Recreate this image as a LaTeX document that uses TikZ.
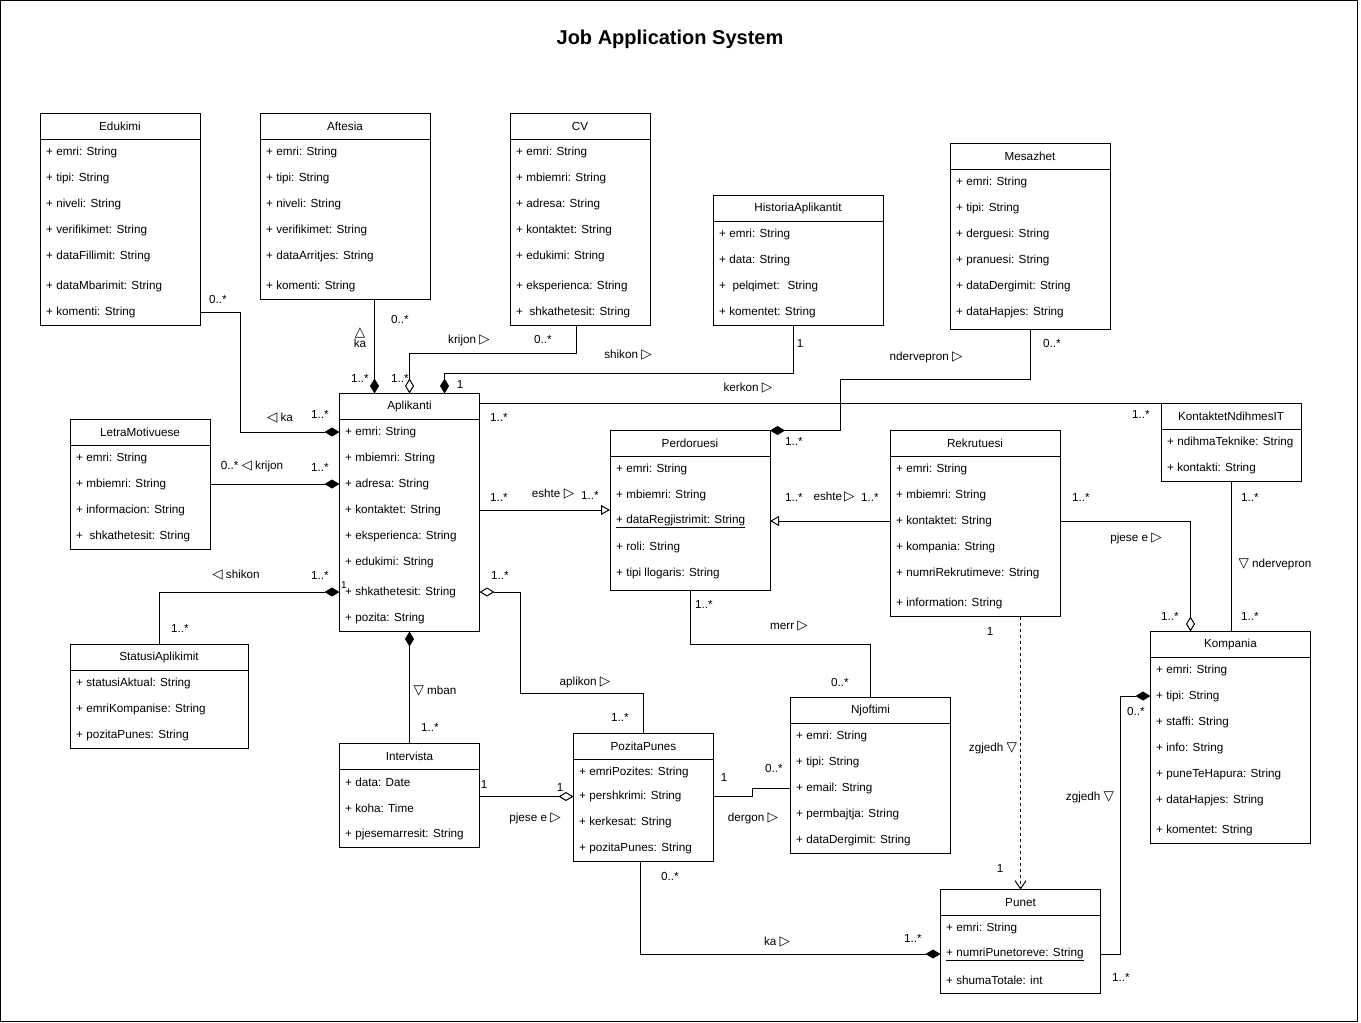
\documentclass[tikz,border=0pt]{standalone}
\usepackage{fontspec}
\setmainfont{Liberation Sans}
\newfontfamily\symfont{DejaVu Sans}
\usetikzlibrary{arrows.meta,calc}
\newcommand{\trR}{{\symfont\fontsize{13.5}{12}\selectfont ▷}}
\newcommand{\trL}{{\symfont\fontsize{13.5}{12}\selectfont ◁}}
\newcommand{\trU}{{\symfont\fontsize{13.5}{12}\selectfont △}}
\newcommand{\trD}{{\symfont\fontsize{13.5}{12}\selectfont ▽}}
\tikzset{
  box/.style={draw, line width=1pt, inner sep=0pt, outer sep=0pt, anchor=north west},
  attr/.style={anchor=west, inner sep=0pt, font=\fontsize{11.7}{14}\selectfont},
  ttl/.style={inner sep=0pt, font=\fontsize{11.7}{14}\selectfont},
  lbl/.style={inner sep=0pt, font=\fontsize{11.7}{14}\selectfont},
  conn/.style={line width=1pt},
  compo/.style={conn, -{Diamond[length=15pt,width=9pt]}},
  aggr/.style={conn, -{Diamond[open,length=15pt,width=9pt,fill=white]}},
  gen/.style={conn, -{Triangle[open,length=9pt,width=10pt,fill=white]}},
  dep/.style={conn, dash pattern=on 3pt off 3pt, -{Straight Barb[length=8pt,width=11pt]}},
}
\newcommand{\umlbox}[6]{%
  \node[box, minimum width=#4, minimum height=#5] (#1) at (#2,#3) {};
  \draw[conn] ($(#1.north west)+(0,26)$) -- ($(#1.north east)+(0,26)$);
  \node[ttl] (#1-t) at ($(#1.north)+(0,13)$) {#6};
}
\newcommand{\ua}[4]{\node[attr] (#1) at (#2,#3) {#4};}
\begin{document}
\begin{tikzpicture}[x=1pt,y=-1pt]
\useasboundingbox (0,0) rectangle (1361,1023);
\draw[line width=1pt] (0.5,0.5) rectangle (1357.5,1021);
\node[inner sep=0pt, font=\bfseries\fontsize{20}{24}\selectfont] (title) at (670,39) {Job Application System};

% Edukimi
\umlbox{edu}{40}{113}{160}{212}{Edukimi}
\ua{edu1}{46}{152}{+ emri: String}
\ua{edu2}{46}{178}{+ tipi: String}
\ua{edu3}{46}{204}{+ niveli: String}
\ua{edu4}{46}{230}{+ verifikimet: String}
\ua{edu5}{46}{256}{+ dataFillimit: String}
\ua{edu6}{46}{286}{+ dataMbarimit: String}
\ua{edu7}{46}{312}{+ komenti: String}

% Aftesia
\umlbox{aft}{260}{113}{170}{186}{Aftesia}
\ua{aft1}{266}{152}{+ emri: String}
\ua{aft2}{266}{178}{+ tipi: String}
\ua{aft3}{266}{204}{+ niveli: String}
\ua{aft4}{266}{230}{+ verifikimet: String}
\ua{aft5}{266}{256}{+ dataArritjes: String}
\ua{aft6}{266}{286}{+ komenti: String}

% CV
\umlbox{cv}{510}{113}{140}{212}{CV}
\ua{cv1}{516}{152}{+ emri: String}
\ua{cv2}{516}{178}{+ mbiemri: String}
\ua{cv3}{516}{204}{+ adresa: String}
\ua{cv4}{516}{230}{+ kontaktet: String}
\ua{cv5}{516}{256}{+ edukimi: String}
\ua{cv6}{516}{286}{+ eksperienca: String}
\ua{cv7}{516}{312}{+ \ shkathetesit: String}

% HistoriaAplikantit
\umlbox{hist}{713}{195.5}{170}{130}{HistoriaAplikantit}
\ua{hist1}{719}{234}{+ emri: String}
\ua{hist2}{719}{260}{+ data: String}
\ua{hist3}{719}{286}{+ \ pelqimet: \ String}
\ua{hist4}{719}{312}{+ komentet: String}

% Mesazhet
\umlbox{mes}{950}{143.5}{160}{186}{Mesazhet}
\ua{mes1}{956}{182}{+ emri: String}
\ua{mes2}{956}{208}{+ tipi: String}
\ua{mes3}{956}{234}{+ derguesi: String}
\ua{mes4}{956}{260}{+ pranuesi: String}
\ua{mes5}{956}{286}{+ dataDergimit: String}
\ua{mes6}{956}{312}{+ dataHapjes: String}

% KontaktetNdihmesIT
\umlbox{kont}{1161}{403.5}{140}{77.5}{KontaktetNdihmesIT}
\ua{kont1}{1167}{442}{+ ndihmaTeknike: String}
\ua{kont2}{1167}{468}{+ kontakti: String}

% Aplikanti
\umlbox{apl}{339.5}{393.5}{140}{238}{Aplikanti}
\ua{apl1}{345}{432}{+ emri: String}
\ua{apl2}{345}{458}{+ mbiemri: String}
\ua{apl3}{345}{484}{+ adresa: String}
\ua{apl4}{345}{510}{+ kontaktet: String}
\ua{apl5}{345}{536}{+ eksperienca: String}
\ua{apl6}{345}{562}{+ edukimi: String}
\ua{apl7}{345}{592}{+ shkathetesit: String}
\ua{apl8}{345}{618}{+ pozita: String}

% Perdoruesi
\umlbox{per}{610}{430.5}{160}{160}{Perdoruesi}
\ua{per1}{616}{469}{+ emri: String}
\ua{per2}{616}{495}{+ mbiemri: String}
\ua{per3}{616}{521}{\underline{+ dataRegjistrimit: String}}
\ua{per4}{616}{547}{+ roli: String}
\ua{per5}{616}{573}{+ tipi llogaris: String}

% Rekrutuesi
\umlbox{rek}{890}{430.5}{170}{186}{Rekrutuesi}
\ua{rek1}{896}{469}{+ emri: String}
\ua{rek2}{896}{495}{+ mbiemri: String}
\ua{rek3}{896}{521}{+ kontaktet: String}
\ua{rek4}{896}{547}{+ kompania: String}
\ua{rek5}{896}{573}{+ numriRekrutimeve: String}
\ua{rek6}{896}{603}{+ information: String}

% LetraMotivuese
\umlbox{let}{70}{419.5}{140}{130}{LetraMotivuese}
\ua{let1}{76}{458}{+ emri: String}
\ua{let2}{76}{484}{+ mbiemri: String}
\ua{let3}{76}{510}{+ informacion: String}
\ua{let4}{76}{536}{+ \ shkathetesit: String}

% StatusiAplikimit
\umlbox{stat}{70}{644.5}{178}{104}{StatusiAplikimit}
\ua{stat1}{76}{683}{+ statusiAktual: String}
\ua{stat2}{76}{709}{+ emriKompanise: String}
\ua{stat3}{76}{735}{+ pozitaPunes: String}

% Intervista
\umlbox{intv}{339.5}{743.5}{140}{104}{Intervista}
\ua{intv1}{345}{782}{+ data: Date}
\ua{intv2}{345}{808}{+ koha: Time}
\ua{intv3}{345}{834}{+ pjesemarresit: String}

% PozitaPunes
\umlbox{pos}{573.5}{733.5}{140}{128}{PozitaPunes}
\ua{pos1}{579}{772}{+ emriPozites: String}
\ua{pos2}{579}{796.5}{+ pershkrimi: String}
\ua{pos3}{579}{822}{+ kerkesat: String}
\ua{pos4}{579}{848}{+ pozitaPunes: String}

% Njoftimi
\umlbox{njo}{790.5}{697.5}{160}{156}{Njoftimi}
\ua{njo1}{796}{736}{+ emri: String}
\ua{njo2}{796}{762}{+ tipi: String}
\ua{njo3}{796}{788}{+ email: String}
\ua{njo4}{796}{814}{+ permbajtja: String}
\ua{njo5}{796}{840}{+ dataDergimit: String}

% Punet
\umlbox{pun}{940.5}{889.5}{160}{104}{Punet}
\ua{pun1}{946}{928}{+ emri: String}
\ua{pun2}{946}{954}{\underline{+ numriPunetoreve: String}}
\ua{pun3}{946}{980}{+ shumaTotale: int}

% Kompania
\umlbox{komp}{1150.5}{631.5}{160}{212}{Kompania}
\ua{komp1}{1156}{670}{+ emri: String}
\ua{komp2}{1156}{696}{+ tipi: String}
\ua{komp3}{1156}{722}{+ staffi: String}
\ua{komp4}{1156}{748}{+ info: String}
\ua{komp5}{1156}{774}{+ puneTeHapura: String}
\ua{komp6}{1156}{800}{+ dataHapjes: String}
\ua{komp7}{1156}{830}{+ komentet: String}

% ---------- connectors ----------
\coordinate (c2) at ($(apl.north west)+(35,0)$);
\coordinate (c3) at ($(apl.north west)+(70,0)$);
\coordinate (c4) at ($(apl.north west)+(105,0)$);

\draw[compo] (edu.east |- edu7) -- ++(40,0) |- (apl.west |- apl1);
\draw[compo] (aft.south -| c2) -- (c2);
\draw[aggr] ($(cv.south)+(-4,0)$) -- ++(0,28) -| (c3);
\draw[compo] ($(hist.south)+(-5,0)$) -- ++(0,48) -| (c4);
\draw[conn] ($(apl.north east)+(0,10)$) -- (kont.north west);
\draw[compo] (mes.south) -- ++(0,50) -| ($(per.north east)+(70,0)$) -- (per.north east);
\draw[gen] (apl.east |- apl4) -- (per.west |- apl4);
\draw[gen] (rek.west |- rek3) -- (per.east |- rek3);
\draw[aggr] (rek.east |- rek3) -| ($(komp.north)+(-40,0)$);
\draw[conn] (kont.south) -- (kont.south |- komp.north);
\draw[compo] (let.east |- let2) -- (apl.west |- let2);
\draw[compo] (stat.north) |- (apl.west |- apl7);
\draw[compo] (intv.north) -- (apl.south);
\draw[aggr] (pos.north) -- ++(0,-40) -| ($(apl.east |- apl7)+(41,0)$) -- (apl.east |- apl7);
\draw[aggr] (intv.east |- pos2) -- (pos.west |- pos2);
\draw[conn] (pos.east |- pos2) -- ++(39,0) |- (njo.west |- njo3);
\draw[conn] (per.south) -- ++(0,54) -| (njo.north);
\draw[dep] (rek.south -| pun.north) -- (pun.north);
\draw[compo] ($(pos.south)+(-3,0)$) |- (pun.west |- pun2);
\draw[compo] (pun.east |- pun2) -- ++(20,0) |- (komp.west |- komp2);

% ---------- labels ----------
\node[lbl] (l1a) at (218,299) {0..*};
\node[lbl] (l1b) at (280,418) {\trL\ ka};
\node[lbl] (l1c) at (320,414) {1..*};
\node[lbl] (l2a) at (400,319) {0..*};
\node[lbl, align=center, font=\fontsize{11.7}{11}\selectfont] (l2b) at (360,338) {\trU\\ka};
\node[lbl] (l2c) at (360,378) {1..*};
\node[lbl] (l3a) at (469,340) {krijon \trR};
\node[lbl] (l3b) at (543,339) {0..*};
\node[lbl] (l3c) at (400,378) {1..*};
\node[lbl] (l4a) at (800,343) {1};
\node[lbl] (l4b) at (628,355) {shikon \trR};
\node[lbl] (l4c) at (460,384) {1};
\node[lbl] (l5a) at (748,388) {kerkon \trR};
\node[lbl] (l5b) at (499,417) {1..*};
\node[lbl] (l5c) at (1141,414) {1..*};
\node[lbl] (l6a) at (926,357) {ndervepron \trR};
\node[lbl] (l6b) at (1052,343) {0..*};
\node[lbl] (l6c) at (794,441) {1..*};
\node[lbl] (l7a) at (499,497) {1..*};
\node[lbl] (l7b) at (553,494) {eshte \trR};
\node[lbl] (l7c) at (590,495) {1..*};
\node[lbl] (l8a) at (794,497) {1..*};
\node[lbl] (l8b) at (834,497) {eshte\,\trR};
\node[lbl] (l8c) at (870,497) {1..*};
\node[lbl] (l9a) at (1081,497) {1..*};
\node[lbl] (l9b) at (1136,538) {pjese e \trR};
\node[lbl] (l9c) at (1170,616) {1..*};
\node[lbl] (l10a) at (1250,497) {1..*};
\node[lbl] (l10b) at (1275,564) {\trD\ ndervepron};
\node[lbl] (l10c) at (1250,616) {1..*};
\node[lbl] (l11a) at (252,466) {0..* \trL\ krijon};
\node[lbl] (l11b) at (320,467) {1..*};
\node[lbl] (l12a) at (236,575) {\trL\ shikon};
\node[lbl] (l12b) at (320,575) {1..*};
\node[lbl, font=\fontsize{10}{12}\selectfont] (l12c) at (344,585) {1};
\node[lbl] (l12d) at (180,628) {1..*};
\node[lbl] (l13a) at (435,691) {\trD\ mban};
\node[lbl] (l13b) at (430,727) {1..*};
\node[lbl] (l14a) at (500,575) {1..*};
\node[lbl] (l14b) at (585,682) {aplikon \trR};
\node[lbl] (l14c) at (620,717) {1..*};
\node[lbl] (l15a) at (484,784) {1};
\node[lbl] (l15b) at (560,787) {1};
\node[lbl] (l15c) at (535,818) {pjese e \trR};
\node[lbl] (l16a) at (724,777) {1};
\node[lbl] (l16b) at (774,768) {0..*};
\node[lbl] (l16c) at (753,818) {dergon \trR};
\node[lbl] (l17a) at (704,604) {1..*};
\node[lbl] (l17b) at (789,626) {merr \trR};
\node[lbl] (l17c) at (840,682) {0..*};
\node[lbl] (l18a) at (990,631) {1};
\node[lbl] (l18b) at (993,748) {zgjedh \trD};
\node[lbl] (l18c) at (1000,868) {1};
\node[lbl] (l19a) at (670,876) {0..*};
\node[lbl] (l19b) at (777,942) {ka \trR};
\node[lbl] (l19c) at (913,938) {1..*};
\node[lbl] (l20a) at (1121,977) {1..*};
\node[lbl] (l20b) at (1090,797) {zgjedh \trD};
\node[lbl] (l20c) at (1136,711) {0..*};
\end{tikzpicture}
\end{document}
